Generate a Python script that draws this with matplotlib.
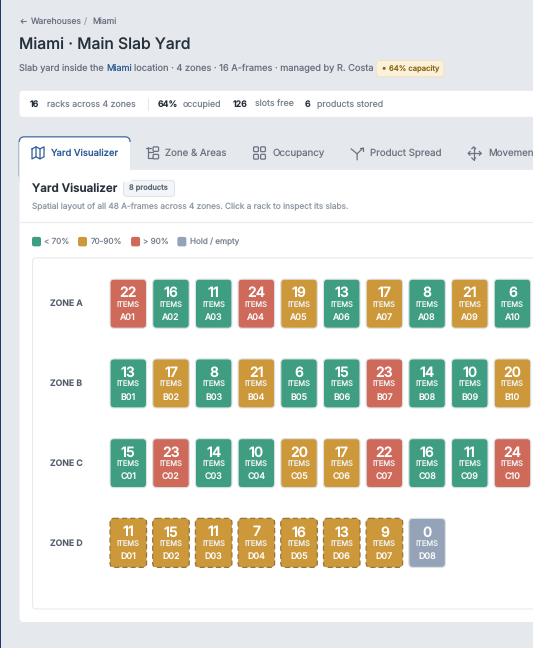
import matplotlib
matplotlib.use("Agg")
import matplotlib.pyplot as plt
from matplotlib.patches import FancyBboxPatch, Rectangle, Circle

plt.rcParams['font.family'] = ['Inter', 'DejaVu Sans']
plt.rcParams['text.hinting'] = 'no_hinting'

zones = ["ZONE A", "ZONE B", "ZONE C", "ZONE D"]
prefix = ["A", "B", "C", "D"]
items = [
    [22, 16, 11, 24, 19, 13, 17, 8, 21, 6],
    [13, 17, 8, 21, 6, 15, 23, 14, 10, 20],
    [15, 23, 14, 10, 20, 17, 22, 16, 11, 24],
    [11, 15, 11, 7, 16, 13, 9, 0],
]
status = [
    list("rggragagag"),
    list("gagaggrgga"),
    list("grggaarggr"),
    list("aaaaaaah"),
]
dashed_rows = [False, False, False, True]
colors = {"g": "#3F9E82", "a": "#CD983A", "r": "#CF6A5B", "h": "#94A3B8"}
legend_labels = ["< 70%", "70-90%", "> 90%", "Hold / empty"]
legend_keys = ["g", "a", "r", "h"]
tabs = ["Yard Visualizer", "Zone & Areas", "Occupancy", "Product Spread", "Movements"]
summary = [("16", "racks across 4 zones"), ("64%", "occupied"), ("126", "slots free"), ("6", "products stored")]

W, H = 533, 649
fig = plt.figure(figsize=((W + 0.2) / 100, (H + 0.2) / 100), dpi=100, facecolor="#E5E8ED")
ax = fig.add_axes([0, 0, 1, 1])
ax.set_xlim(0, W)
ax.set_ylim(H, 0)
ax.axis("off")
PX = 0.72


def box(x0, y0, x1, y1, fc, ec="none", lw=0, r=3, ls="-", z=1):
    p = FancyBboxPatch((x0 + r, y0 + r), x1 - x0 - 2 * r, y1 - y0 - 2 * r,
                       boxstyle=f"round,pad={r},rounding_size={r}", fc=fc, ec=ec,
                       lw=lw, ls=ls, zorder=z, mutation_aspect=1)
    ax.add_patch(p)
    return p


def txt(x, y, s, px, color, weight="normal", ha="left", z=5):
    ax.text(x, y, s, fontsize=px * PX, color=color, fontweight=weight, ha=ha, va="center", zorder=z)


def ln(xs, ys, color, lw=0.9, z=5):
    ax.plot(xs, ys, color=color, lw=lw, solid_capstyle="round", zorder=z)


# window edge
ax.add_patch(Rectangle((0, 0), 1.2, H, fc="#1E3A66", ec="none", zorder=9))
ax.add_patch(Rectangle((0, 648), W, 1, fc="#FFFFFF", ec="none", zorder=9))

# breadcrumb and header
GREY = "#6B7280"
ln([21, 26], [21.5, 21.5], GREY, 0.7)
ln([23, 21, 23], [19.5, 21.5, 23.5], GREY, 0.7)
txt(31, 21.5, "Warehouses", 8.6, GREY)
txt(84, 21.5, "/", 8.6, "#9CA3AF")
txt(92, 21.5, "Miami", 8.6, GREY)
txt(19, 45, "Miami · Main Slab Yard", 15.7, "#27303B", "medium")
txt(19, 68, "Slab yard inside the", 9.1, GREY)
txt(106, 68, "Miami", 9.1, "#2F5D94")
txt(134, 68, "location · 4 zones · 16 A-frames · managed by R. Costa", 9.25, GREY)
box(376, 60.5, 444, 77, "#FBF1DA", "#F1DFB5", 0.6, r=4)
ax.add_patch(Circle((384, 68.5), 1.5, fc="#8A6412", ec="none", zorder=5))
txt(389, 68.5, "64% capacity", 7.6, "#8A6412", "medium")

# summary strip
box(19.5, 91, 545, 117, "#FFFFFF", r=3)
xs_num = [30, 158, 233, 305]
xs_lab = [47, 183, 255, 317]
for (n, lab), xn, xl in zip(summary, xs_num, xs_lab):
    txt(xn, 104.5, n, 8.8, "#27303B", "semibold")
    txt(xl, 104.5, lab, 8.8, "#7A8290")
ln([147.5, 147.5], [98, 110], "#E2E5EA", 0.7)

# main panel
box(19.5, 170, 550, 622, "#FFFFFF", r=4, z=1)
box(19.3, 137, 130, 180, "#FFFFFF", "#3E6A9C", 0.9, r=5, z=1.2)
ax.add_patch(Rectangle((18.5, 142), 112.5, 40, fc="#FFFFFF", ec="none", zorder=1.3))
ax.add_patch(Rectangle((18.5, 142), 1.0, 40, fc="#E5E8ED", ec="none", zorder=1.4))
ax.add_patch(Rectangle((130, 142), 1.2, 28, fc="#E5E8ED", ec="none", zorder=1.4))
tab_x = [50.5, 165, 272, 370, 488]
tab_c = ["#2F5D94"] + ["#6B7280"] * 4
for s, x, c in zip(tabs, tab_x, tab_c):
    if c == "#2F5D94":
        txt(x, 153, s, 9.4, c, "medium")
    else:
        txt(x, 153, s, 9.7, c)

# tab icons
c = "#2F5D94"
for xs, ys in [([32, 36, 36, 32, 32], [149, 147, 157, 159, 149]),
               ([36, 40, 40, 36], [147, 149, 159, 157]),
               ([40, 44, 44, 40], [149, 147, 157, 159])]:
    ln(xs, ys, c, 0.9)
c = "#6B7280"
ln([148, 148, 153], [147, 158, 158], c, 0.9)
ln([148, 153], [152, 152], c, 0.9)
ln([145.5, 150.5], [148, 148], c, 0.9)
box(153, 147, 158.5, 151.5, "none", c, 0.9, r=1, z=5)
box(153, 154.5, 158.5, 159, "none", c, 0.9, r=1, z=5)
for x0 in (253.5, 260.5):
    for y0 in (147, 154.5):
        box(x0, y0, x0 + 4.8, y0 + 4.8, "none", c, 0.9, r=1, z=5)
ln([351, 357, 357], [149, 154, 160], c, 0.9)
ln([363, 357], [148, 154], c, 0.9)
ln([360, 363, 363], [148, 148, 151], c, 0.9)
ln([473.5, 473.5], [147, 160], c, 0.9)
ln([468, 481], [153.5, 153.5], c, 0.9)
for xs, ys in [([471.5, 473.5, 475.5], [149, 147, 149]), ([471.5, 473.5, 475.5], [158, 160, 158]),
               ([470, 468, 470], [151.5, 153.5, 155.5]), ([479, 481, 479], [151.5, 153.5, 155.5])]:
    ln(xs, ys, c, 0.9)

# panel heading
txt(32, 188.5, "Yard Visualizer", 11.6, "#27303B", "semibold")
box(123.5, 180.5, 174.5, 196.5, "#F3F5F8", "#DDE2E9", 0.7, r=3)
txt(129, 188.5, "8 products", 7.5, "#5B6675", "medium")
txt(32, 207, "Spatial layout of all 48 A-frames across 4 zones. Click a rack to inspect its slabs.", 8.3, "#9199A5")
ln([20, 533], [222.5, 222.5], "#E8EAEE", 0.8)

# legend
leg_box = [32, 78, 131, 177.3]
leg_txt = [44, 90.5, 143, 190]
for k, lab, xb, xt in zip(legend_keys, legend_labels, leg_box, leg_txt):
    box(xb, 237, xb + 9, 246.5, colors[k], r=2, z=3)
    txt(xt, 241.5, lab, 8.1, "#7A8290")

# inner yard panel
box(32.5, 258, 560, 609, "#FFFFFF", "#E8EAEE", 0.8, r=4, z=2)

# tiles
x_start, x_pitch, tw = 110, 42.67, 36.5
y_start, y_pitch, th = 279.3, 79.7, 49
for r, (zone, pre, vals, st, dashed) in enumerate(zip(zones, prefix, items, status, dashed_rows)):
    y0 = y_start + r * y_pitch
    txt(50, y0 + 24.5, zone, 8.7, "#545E6C", "semibold")
    for i, (v, s) in enumerate(zip(vals, st)):
        x0 = x_start + i * x_pitch
        dash = dashed and s != "h"
        ec = "#94763A" if dash else "#DDE2E8"
        box(x0, y0, x0 + tw, y0 + th, colors[s], ec, 0.9 if dash else 0.8, r=4,
            ls=(0, (4, 2.5)) if dash else "-", z=3)
        xc = x0 + tw / 2
        txt(xc, y0 + 14, str(v), 14, "#FFFFFF", "semibold", "center")
        txt(xc, y0 + 25, "ITEMS", 7.5, "#EEF1F1", "normal", "center")
        txt(xc, y0 + 38, f"{pre}{i + 1:02d}", 8.9, "#FBFBFB", "medium", "center")

fig.savefig("out.png", dpi=100, facecolor=fig.get_facecolor())
